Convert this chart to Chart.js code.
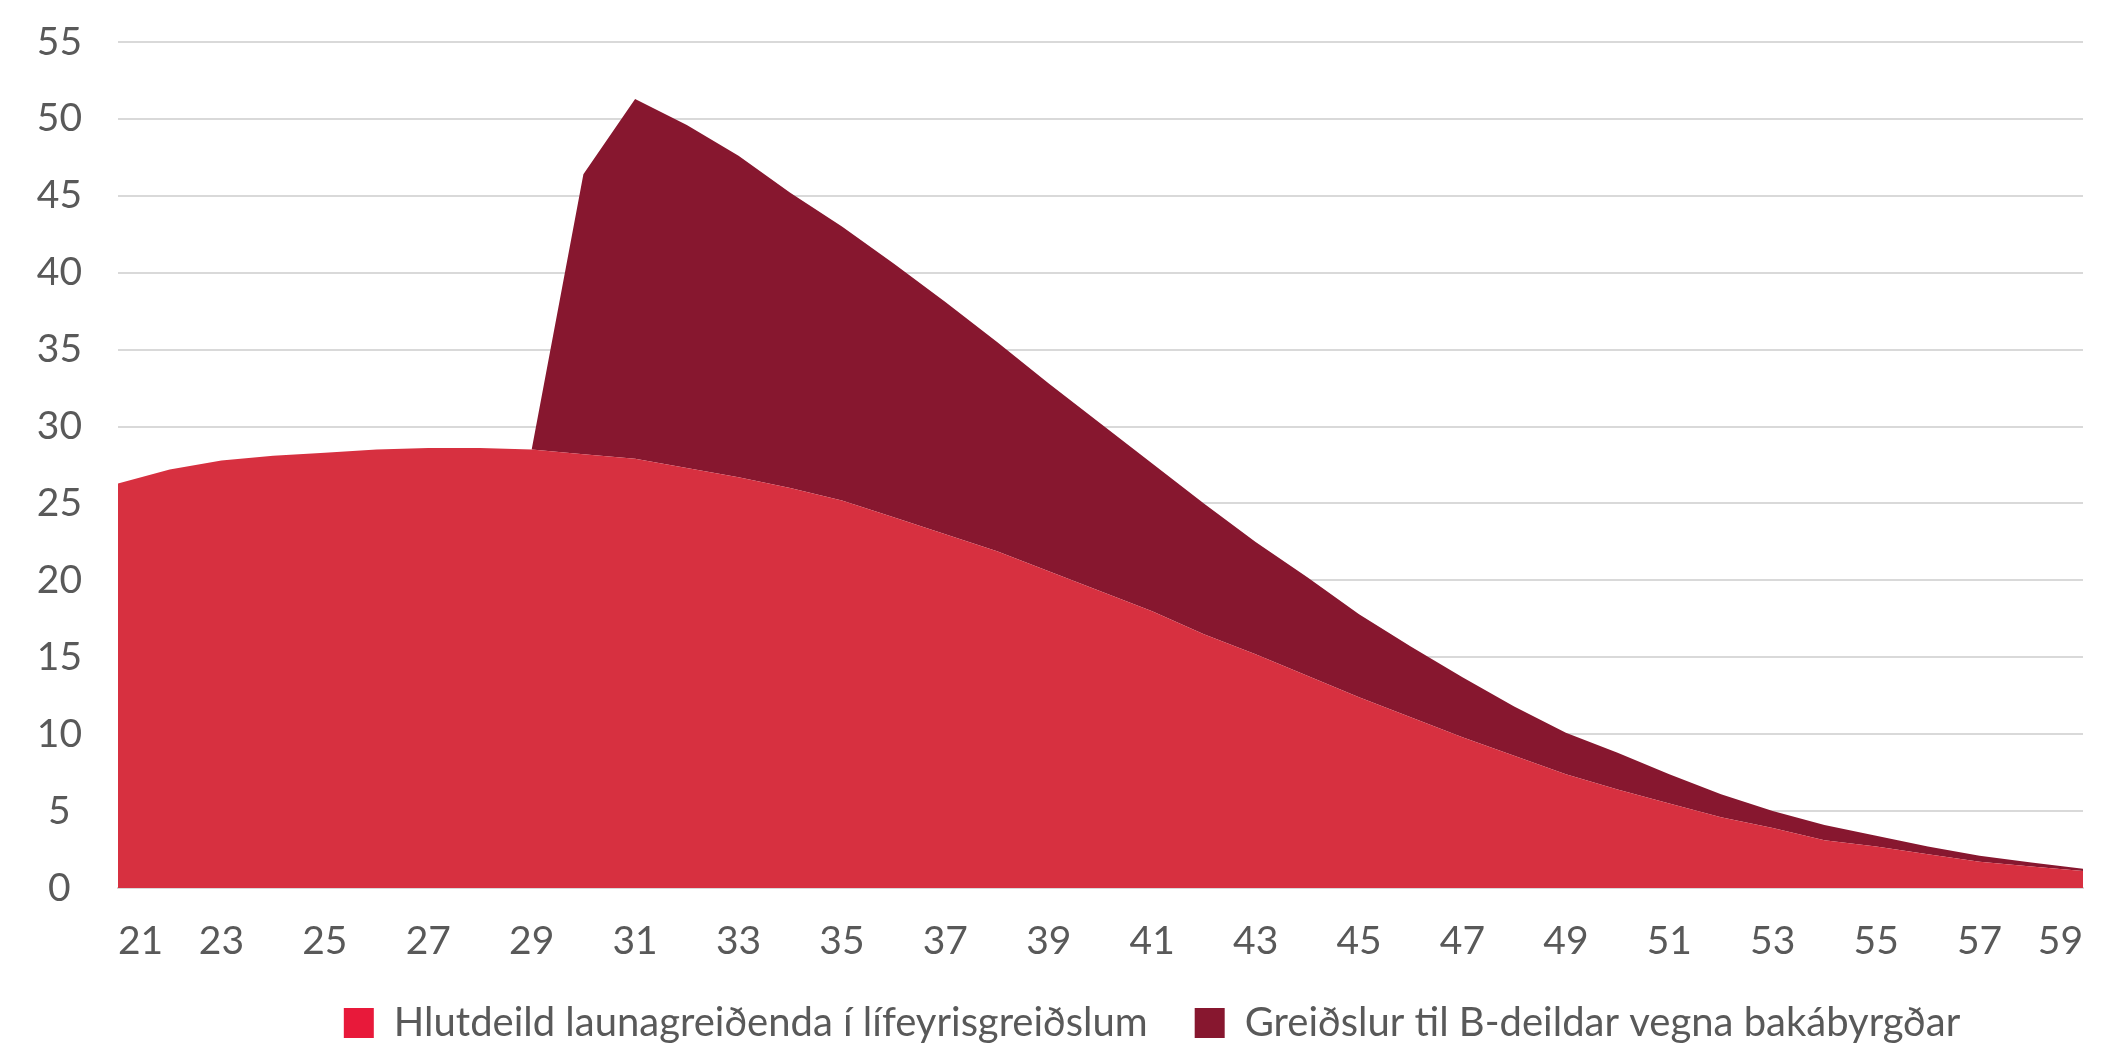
<!DOCTYPE html>
<html>
<head>
<meta charset="utf-8">
<script src="https://cdn.jsdelivr.net/npm/chart.js@4.4.1/dist/chart.umd.min.js"></script>
<style>
html,body{margin:0;padding:0;background:#fff}
#wrap{width:2105px;height:1043px}
</style>
</head>
<body>
<div id="wrap"><canvas id="pensionChart"></canvas></div>
<script>

// aldur (x-ás)
const ages=[21,22,23,24,25,26,27,28,29,30,31,32,33,34,35,36,37,38,39,40,41,42,43,44,45,46,47,48,49,50,51,52,53,54,55,56,57,58,59]

// Hlutdeild launagreiðenda í lífeyrisgreiðslum
const employerShare=[26.3,27.2,27.8,28.1,28.3,28.5,28.6,28.6,28.5,28.2,27.9,27.3,26.7,26.0,25.2,24.1,23.0,21.9,20.6,19.3,18.0,16.5,15.2,13.8,12.4,11.1,9.8,8.6,7.4,6.4,5.5,4.6,3.9,3.1,2.7,2.2,1.7,1.4,1.1]

// Greiðslur til B-deildar vegna bakábyrgðar (staflað ofan á)
const bDivision=[0,0,0,0,0,0,0,0,0,18.2,23.4,22.3,20.9,19.2,17.8,16.5,15.1,13.6,12.2,10.9,9.6,8.5,7.3,6.4,5.4,4.6,3.9,3.2,2.7,2.4,1.9,1.5,1.1,1.0,0.7,0.5,0.4,0.25,0.15]

const seriesNames=['Hlutdeild launagreiðenda í lífeyrisgreiðslum','Greiðslur til B-deildar vegna bakábyrgðar']
const yMax=55
const yStep=5

const fillColors=['#D73040','#87172F']
const swatchColors=['#E8193A','#87172F']
const textColor='#595959'
const fontFamily='Lato, "Open Sans", sans-serif'

// legend is a bit right of centre in the original
const legendShift={
id:'legendShift',
afterLayout(chart){
const lg=chart.legend
lg.left+=104
lg.right+=104
}
}

new Chart(
document.getElementById('pensionChart'),
{
type:'line',
data:{
labels:ages.map(String),
datasets:[
{
label:seriesNames[0],
data:employerShare,
backgroundColor:fillColors[0],
borderWidth:0,
pointRadius:0,
fill:'origin',
tension:0
},
{
label:seriesNames[1],
data:bDivision,
backgroundColor:fillColors[1],
borderWidth:0,
pointRadius:0,
fill:'-1',
tension:0
}
]
},
options:{
responsive:true,
maintainAspectRatio:false,
animation:false,
devicePixelRatio:1,
layout:{padding:{top:42,right:9,left:0,bottom:-10}},
plugins:{
tooltip:{enabled:false},
legend:{
position:'bottom',
labels:{
boxWidth:30,
boxHeight:30,
padding:47,
color:textColor,
font:{family:fontFamily,size:40},
generateLabels(chart){
const items=Chart.defaults.plugins.legend.labels.generateLabels(chart)
items.forEach((it,i)=>{
it.fillStyle=swatchColors[i]
it.strokeStyle=swatchColors[i]
it.lineWidth=0
})
return items
}
}
}
},
scales:{
x:{
grid:{display:false},
border:{display:true,color:'#d9d9d9',width:2},
afterFit(scale){scale.height=68},
ticks:{
autoSkip:false,
maxRotation:0,
align:'inner',
padding:22,
color:textColor,
font:{family:fontFamily,size:39},
callback:(v,i)=>i%2===0?ages[i]:''
}
},
y:{
stacked:true,
min:0,
max:yMax,
afterFit(scale){
scale.width=118
scale.paddingTop=0
scale.paddingBottom=0
},
grid:{color:'#d9d9d9',lineWidth:2,drawTicks:false},
border:{display:false},
ticks:{
stepSize:yStep,
padding:36,
crossAlign:'center',
color:textColor,
font:{family:fontFamily,size:39}
}
}
}
},
plugins:[legendShift]
})

</script>
</body>
</html>
